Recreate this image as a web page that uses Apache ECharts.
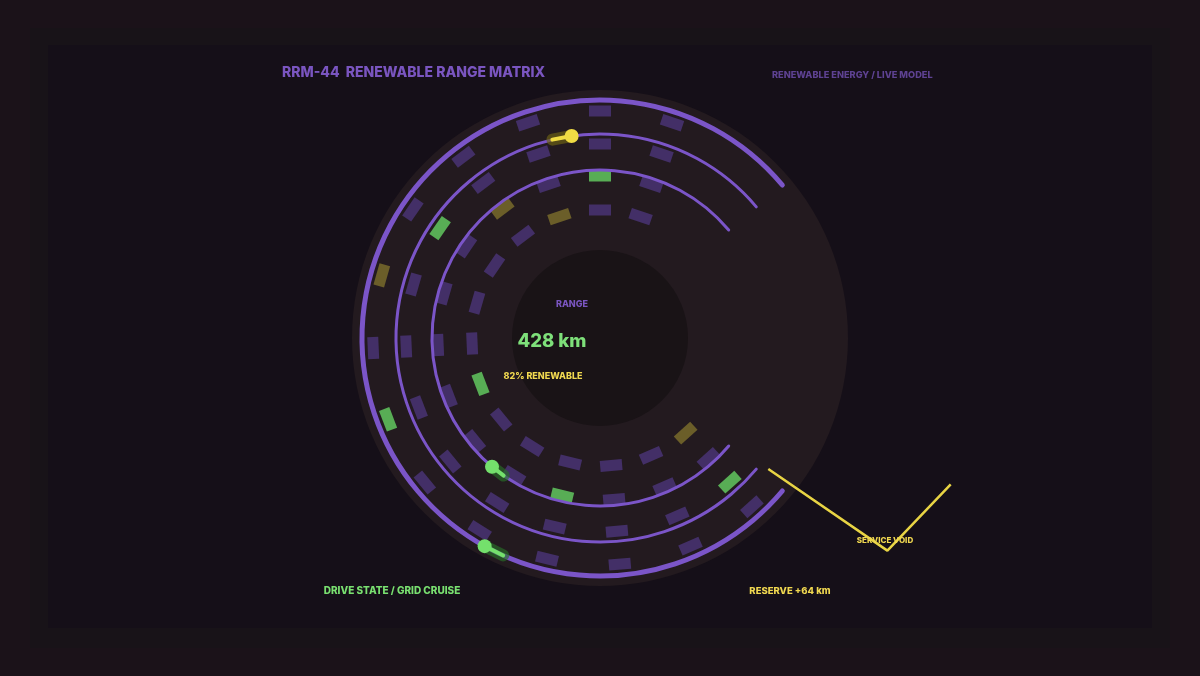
<!DOCTYPE html>
<html><head><meta charset="utf-8">
<script src="https://cdn.jsdelivr.net/npm/echarts@6/dist/echarts.min.js"></script>
<style>html,body{margin:0;padding:0;background:#1b1219;}#c{width:1200px;height:676px;}</style>
</head><body><div id="c"></div>
<script>
// ---- data ----
const ringRadii = [227, 194, 162, 128];
const dashAngles = [71.5, 90, 108.5, 127, 145.5, 164, 182.5, 201, 219.5, 238, 256.5, 275, 293.5, 312];
const ringStates = [
  ['p','p','p','p','p','y','p','g','p','p','p','p','p','p'],
  ['p','p','p','p','g','p','p','p','p','p','p','p','p','g'],
  ['p','g','p','y','p','p','p','p','p','p','g','p','p','p'],
  ['p','p','y','p','p','p','p','g','p','p','p','p','p','y']
];
const arcRadii = [238, 204, 168];
const arcStart = 40;
const arcEnd = 320;
const knobRadii = [204, 168, 238];
const knobHead = [98, 230, 241];
const knobTail = [103.5, 235, 246];
const knobState = ['y', 'g', 'g'];
const discRadii = [248, 88];
const voidPath = [[213.3, 322.1], [357.5, 323.5], [380, 337.35]];
const titleText = 'RRM-44  RENEWABLE RANGE MATRIX';
const subText = 'RENEWABLE ENERGY / LIVE MODEL';
const rangeLabel = 'RANGE';
const rangeValue = '428 km';
const renewText = '82% RENEWABLE';
const driveText = 'DRIVE STATE / GRID CRUISE';
const reserveText = 'RESERVE +64 km';
const voidText = 'SERVICE VOID';

// ---- styles ----
const dashColor = {p: '#4b3579', g: '#65d263', y: '#7d6f2c'};
const knobColor = {y: '#f0dc44', g: '#74e06c'};
const haloColor = {y: 'rgba(110,100,20,0.65)', g: 'rgba(40,110,40,0.65)'};
const arcWidths = [5, 3, 3];
const discColors = ['#231a1f', '#191316'];
const FONT = 'Inter, "Noto Sans", sans-serif';

const chart = echarts.init(document.getElementById('c'), null, {renderer: 'canvas'});

function pxRadius(api, r) {
  const o = api.coord([0, 0]);
  const p = api.coord([r, 0]);
  return [o, Math.hypot(p[0] - o[0], p[1] - o[1])];
}

const dashData = [];
ringRadii.forEach((r, i) => {
  dashAngles.forEach((a, j) => {
    const s = ringStates[i][j];
    dashData.push({value: [r, a], symbolRotate: a - 90, itemStyle: {color: dashColor[s]}});
  });
});

function txt(text, x, y, size, color, align, weight) {
  return {type: 'text', x: x, y: y, z: 100, silent: true,
    style: {text: text, fill: color, font: (weight || 800) + ' ' + size + 'px ' + FONT,
      textAlign: align || 'center', textVerticalAlign: 'middle'}};
}

chart.setOption({
  backgroundColor: '#1b1219',
  animation: false,
  polar: {center: [600, 338], radius: [0, 400]},
  angleAxis: {type: 'value', min: 0, max: 360, startAngle: 0, clockwise: false, show: false},
  radiusAxis: {type: 'value', min: 0, max: 400, show: false},
  graphic: [
    {type: 'rect', z: -10, silent: true, shape: {x: 30, y: 28, width: 1140, height: 620}, style: {fill: '#181318'}},
    {type: 'rect', z: -9, silent: true, shape: {x: 48, y: 45, width: 1104, height: 583}, style: {fill: '#150f18'}},
    txt(titleText, 282, 73, 14, '#7a55c0', 'left'),
    txt(subText, 772, 75, 9.2, '#5e4292', 'left'),
    txt(rangeLabel, 572, 304, 9, '#7a55c0'),
    txt(rangeValue, 552, 341, 18.5, '#7ee07a'),
    txt(renewText, 543, 376, 9, '#f0d850'),
    txt(driveText, 392, 591, 10, '#79e070'),
    txt(reserveText, 790, 591, 9.5, '#f0d850'),
    txt(voidText, 885, 541, 8, '#f0d850')
  ],
  series: [
    {
      type: 'custom', coordinateSystem: 'polar', silent: true, z: 1,
      data: discRadii.map(r => [r, 0]),
      renderItem: function (params, api) {
        const [o, rr] = pxRadius(api, api.value(0));
        return {type: 'circle', shape: {cx: o[0], cy: o[1], r: rr},
          style: {fill: discColors[params.dataIndex]}};
      }
    },
    {
      type: 'custom', coordinateSystem: 'polar', silent: true, z: 3,
      data: arcRadii.map(r => [r, arcStart, arcEnd]),
      renderItem: function (params, api) {
        const r = api.value(0);
        const [o, rr] = pxRadius(api, r);
        const p0 = api.coord([r, api.value(1)]);
        const p1 = api.coord([r, api.value(2)]);
        return {type: 'arc', shape: {cx: o[0], cy: o[1], r: rr,
            startAngle: Math.atan2(p0[1] - o[1], p0[0] - o[0]),
            endAngle: Math.atan2(p1[1] - o[1], p1[0] - o[0]), clockwise: false},
          style: {stroke: '#7b55c8', lineWidth: arcWidths[params.dataIndex], fill: null, lineCap: 'round'}};
      }
    },
    {
      type: 'scatter', coordinateSystem: 'polar', silent: true, z: 2,
      symbol: 'rect', symbolSize: [22, 11],
      data: dashData
    },
    {
      type: 'custom', coordinateSystem: 'polar', silent: true, z: 5,
      data: knobRadii.map((r, i) => [r, knobHead[i], knobTail[i]]),
      renderItem: function (params, api) {
        const r = api.value(0);
        const h = api.coord([r, api.value(1)]);
        const t = api.coord([r, api.value(2)]);
        const s = knobState[params.dataIndex];
        return {type: 'group', children: [
          {type: 'line', shape: {x1: h[0], y1: h[1], x2: t[0], y2: t[1]},
            style: {stroke: haloColor[s], lineWidth: 12, lineCap: 'round'}},
          {type: 'line', shape: {x1: h[0], y1: h[1], x2: t[0], y2: t[1]},
            style: {stroke: knobColor[s], lineWidth: 4, lineCap: 'round'}},
          {type: 'circle', shape: {cx: h[0], cy: h[1], r: 7}, style: {fill: knobColor[s]}}
        ]};
      }
    },
    {
      type: 'line', coordinateSystem: 'polar', silent: true, clip: false, z: 6,
      symbol: 'none', data: voidPath,
      lineStyle: {color: '#e8d444', width: 2.5}
    }
  ]
});
</script>
</body></html>
